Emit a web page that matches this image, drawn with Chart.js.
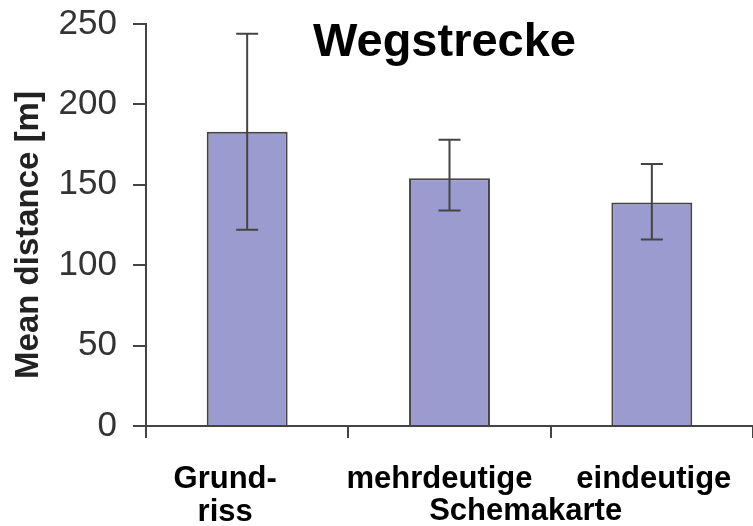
<!DOCTYPE html>
<html>
<head>
<meta charset="utf-8">
<script src="https://cdn.jsdelivr.net/npm/chart.js@4/dist/chart.umd.min.js"></script>
<style>
  html, body { margin: 0; padding: 0; background: #ffffff; }
  #wrap { width: 753px; height: 526px; position: relative; }
</style>
</head>
<body>
<div id="wrap"><canvas id="chart"></canvas></div>
<script>
// Mean walking distance per map type, with error ranges
const categories = ['Grundriss', 'mehrdeutige', 'eindeutige'];
const meanDistance = [183, 154, 139];
const errorLow = [122, 134, 116];
const errorHigh = [244, 178, 163];
const yTicks = [0, 50, 100, 150, 200, 250];
const categoryLines = [['Grund-', 'riss'], ['mehrdeutige'], ['eindeutige']];
const groupLabel = 'Schemakarte';
const chartTitle = 'Wegstrecke';
const yAxisTitle = 'Mean distance [m]';

const AXIS_COLOR = '#444444';
const FONT = '"Liberation Sans", Arial, Helvetica, sans-serif';

// Vertical whiskers with end caps, drawn on top of the bars
const errorBars = {
  id: 'errorBars',
  afterDatasetsDraw(chart) {
    const { ctx, scales: { y } } = chart;
    const meta = chart.getDatasetMeta(0);
    ctx.save();
    ctx.strokeStyle = AXIS_COLOR;
    ctx.lineWidth = 2;
    meta.data.forEach((bar, i) => {
      const x = bar.x;
      const yLo = y.getPixelForValue(errorLow[i]);
      const yHi = y.getPixelForValue(errorHigh[i]);
      const cap = 11;
      ctx.beginPath();
      ctx.moveTo(x, yLo); ctx.lineTo(x, yHi);
      ctx.moveTo(x - cap, yHi); ctx.lineTo(x + cap, yHi);
      ctx.moveTo(x - cap, yLo); ctx.lineTo(x + cap, yLo);
      ctx.stroke();
    });
    ctx.restore();
  }
};

// Title inside the plot, rotated axis title and the two-line category captions
const annotations = {
  id: 'annotations',
  afterDraw(chart) {
    const { ctx, chartArea, scales: { x } } = chart;
    ctx.save();
    ctx.fillStyle = '#000';
    ctx.textAlign = 'center';
    ctx.textBaseline = 'alphabetic';

    ctx.font = 'bold 47px ' + FONT;
    ctx.fillText(chartTitle, (chartArea.left + chartArea.right) / 2 - 5, chartArea.top + 32);

    ctx.font = 'bold 31px ' + FONT;
    const nudge = [-22, -10, 2];
    const base = chartArea.bottom + 62;
    categoryLines.forEach((lines, i) => {
      const cx = x.getPixelForValue(i) + nudge[i];
      lines.forEach((t, k) => ctx.fillText(t, cx, base + k * 33));
    });
    const gx = (x.getPixelForValue(1) + x.getPixelForValue(2)) / 2 - 25;
    ctx.fillText(groupLabel, gx, base + 32);

    ctx.fillStyle = '#222';
    ctx.font = 'bold 33px ' + FONT;
    ctx.translate(29, (chartArea.top + chartArea.bottom) / 2 + 10);
    ctx.rotate(-Math.PI / 2);
    ctx.textBaseline = 'middle';
    ctx.fillText(yAxisTitle, 0, 0);
    ctx.restore();
  }
};

new Chart(document.getElementById('chart'), {
  type: 'bar',
  data: {
    labels: categories,
    datasets: [{
      data: meanDistance,
      backgroundColor: '#9c9bcf',
      borderColor: AXIS_COLOR,
      borderWidth: 2,
      barPercentage: 0.4,
      categoryPercentage: 1.0
    }]
  },
  options: {
    responsive: true,
    maintainAspectRatio: false,
    animation: false,
    devicePixelRatio: 1,
    layout: { padding: { top: 24, right: 0, left: 0, bottom: 0 } },
    plugins: {
      legend: { display: false },
      tooltip: { enabled: false },
      title: { display: false }
    },
    scales: {
      x: {
        type: 'category',
        offset: true,
        afterFit(scale) {
          scale.height = 100;
          scale.paddingLeft = 0;
          scale.paddingRight = 0;
        },
        grid: {
          display: true,
          offset: true,
          drawOnChartArea: false,
          drawTicks: true,
          tickLength: 12,
          color: AXIS_COLOR,
          lineWidth: 2
        },
        border: { display: true, color: AXIS_COLOR, width: 2 },
        ticks: { display: false }
      },
      y: {
        min: 0,
        max: 250,
        afterFit(scale) {
          scale.width = 146;
          scale.paddingTop = 0;
          scale.paddingBottom = 0;
        },
        afterBuildTicks(scale) { scale.ticks = yTicks.map(v => ({ value: v })); },
        grid: {
          display: true,
          drawOnChartArea: false,
          drawTicks: true,
          tickLength: 13,
          color: AXIS_COLOR,
          lineWidth: 2
        },
        border: { display: true, color: AXIS_COLOR, width: 2 },
        ticks: {
          padding: 16,
          color: '#333',
          font: { family: FONT, size: 35 }
        }
      }
    }
  },
  plugins: [errorBars, annotations]
});
</script>
</body>
</html>
